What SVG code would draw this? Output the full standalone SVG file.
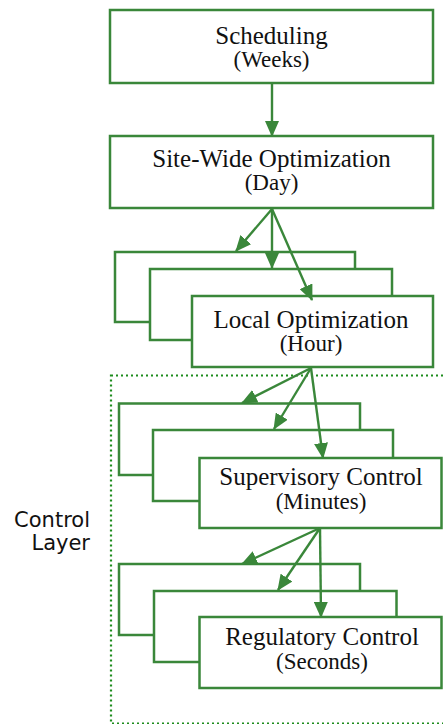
<svg xmlns="http://www.w3.org/2000/svg" width="443" height="724" viewBox="0 0 443 724">
<style>
.box{fill:#fff;stroke:#3a873a;stroke-width:2.5}
.t{font-family:"Liberation Serif","Times New Roman",serif;font-size:25px;fill:#111;text-anchor:middle}
.s{font-family:"Liberation Serif","Times New Roman",serif;font-size:23px;fill:#111;text-anchor:middle}
.lbl{font-family:"DejaVu Sans",sans-serif;font-size:21px;fill:#111;text-anchor:end}
.c{stroke:#3a873a;stroke-width:2.4;fill:none;marker-end:url(#ah)}
</style>
<defs>
<marker id="ah" markerUnits="userSpaceOnUse" markerWidth="16" markerHeight="14" refX="15" refY="7" orient="auto">
<path d="M0,0 L16,7 L0,14 z" fill="#3a873a"/>
</marker>
</defs>
<rect id="control-layer" x="111" y="375.5" width="340" height="348" fill="none" stroke="#1c8c1c" stroke-width="2.2" stroke-dasharray="2 3"/>
<text class="lbl" x="90" y="527">Control</text>
<text class="lbl" x="90" y="550">Layer</text>
<g id="scheduling">
<rect class="box" x="110" y="10" width="323" height="73"/>
<text class="t" x="271.5" y="44">Scheduling</text>
<text class="s" x="271.5" y="67">(Weeks)</text>
</g>
<g id="site-wide">
<rect class="box" x="110" y="136" width="323" height="72"/>
<text class="t" x="271.5" y="167">Site-Wide Optimization</text>
<text class="s" x="271.5" y="190">(Day)</text>
</g>
<g id="local">
<rect class="box" x="115" y="252" width="240" height="70"/>
<rect class="box" x="150" y="269" width="242" height="71"/>
<rect class="box" x="192" y="296" width="241" height="71"/>
<text class="t" x="311" y="328">Local Optimization</text>
<text class="s" x="311" y="351">(Hour)</text>
</g>
<g id="supervisory">
<rect class="box" x="119" y="403.5" width="241" height="71.5"/>
<rect class="box" x="153" y="430" width="240" height="71"/>
<rect class="box" x="199.5" y="458" width="242" height="70"/>
<text class="t" x="321" y="485">Supervisory Control</text>
<text class="s" x="321" y="509">(Minutes)</text>
</g>
<g id="regulatory">
<rect class="box" x="119" y="564" width="241" height="71"/>
<rect class="box" x="154" y="591" width="242.5" height="71"/>
<rect class="box" x="199.5" y="617" width="242" height="71"/>
<text class="t" x="322" y="645">Regulatory Control</text>
<text class="s" x="322" y="669">(Seconds)</text>
</g>
<g id="connectors">
<line class="c" x1="272" y1="83" x2="272" y2="136"/>
<line class="c" x1="272" y1="209" x2="236" y2="251"/>
<line class="c" x1="272" y1="209" x2="272" y2="268"/>
<line class="c" x1="272" y1="209" x2="312" y2="300"/>
<line class="c" x1="311" y1="368" x2="242" y2="403"/>
<line class="c" x1="311" y1="368" x2="274" y2="429"/>
<line class="c" x1="311" y1="368" x2="323" y2="458"/>
<line class="c" x1="320" y1="528" x2="242" y2="564"/>
<line class="c" x1="320" y1="528" x2="278" y2="590"/>
<line class="c" x1="320" y1="528" x2="321" y2="617"/>
</g>
</svg>
